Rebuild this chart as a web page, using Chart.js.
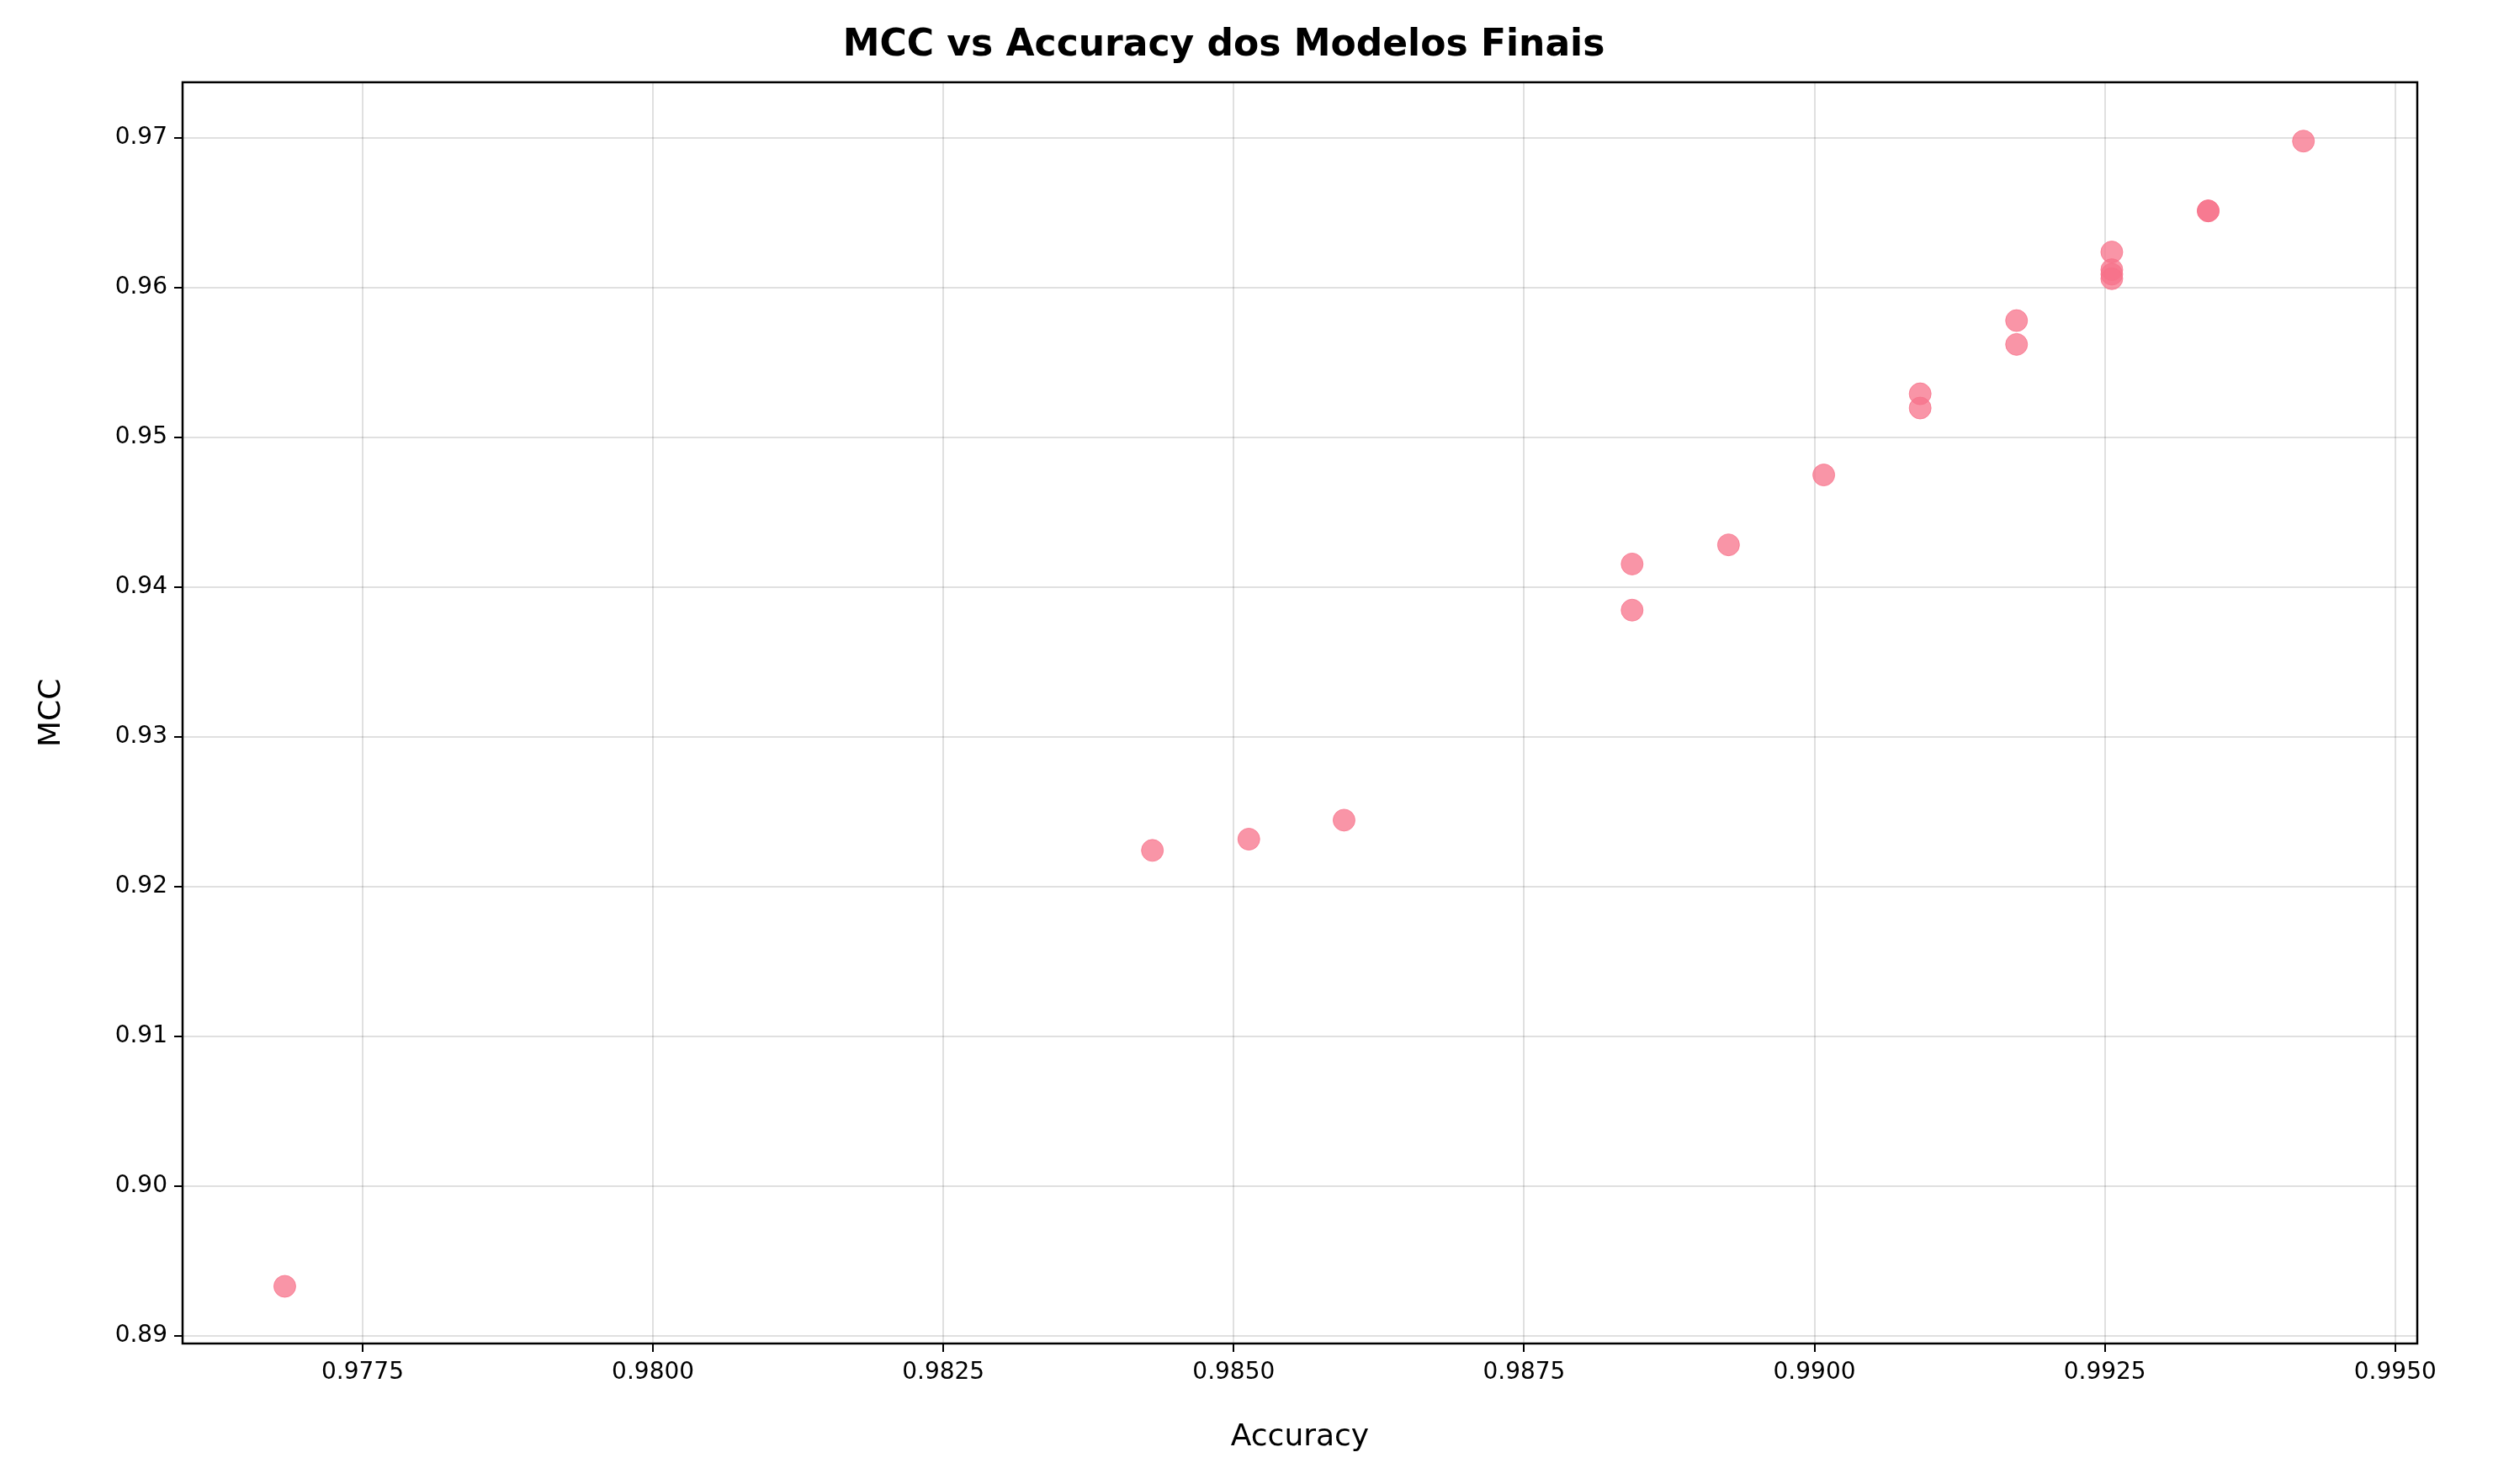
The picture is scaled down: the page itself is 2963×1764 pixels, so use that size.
<!DOCTYPE html>
<html>
<head>
<meta charset="utf-8">
<script src="https://cdn.jsdelivr.net/npm/chart.js@4"></script>
<style>
  html, body { margin: 0; padding: 0; background: #fff; }
  #wrap { width: 2963px; height: 1764px; }
</style>
</head>
<body>
<div id="wrap"><canvas id="c" width="2963" height="1764"></canvas></div>
<script>
// accuracy / MCC of the final models
const accuracy = [0.97683, 0.98430, 0.98513, 0.98595, 0.98843, 0.98843, 0.98926, 0.99008, 0.99091, 0.99091,
  0.99174, 0.99174, 0.99256, 0.99256, 0.99256, 0.99256, 0.99339, 0.99339, 0.99421];
const mcc = [0.89329, 0.92241, 0.92316, 0.92443, 0.94154, 0.93846, 0.94282, 0.94749, 0.95291, 0.95196,
  0.95780, 0.95621, 0.96238, 0.96120, 0.96090, 0.96060, 0.96513, 0.96513, 0.96979];
const xTicks = [0.9775, 0.98, 0.9825, 0.985, 0.9875, 0.99, 0.9925, 0.995];
const yTicks = [0.89, 0.90, 0.91, 0.92, 0.93, 0.94, 0.95, 0.96, 0.97];

const points = accuracy.map((a, i) => ({ x: a, y: mcc[i] }));
const FONT = "'DejaVu Sans', sans-serif";

const frame = {
  id: "frame",
  afterDraw(chart) {
    const { ctx, chartArea: a } = chart;
    ctx.save();
    ctx.strokeStyle = "#000";
    ctx.lineWidth = 2.5;
    ctx.strokeRect(a.left, a.top, a.right - a.left, a.bottom - a.top);
    ctx.restore();
  }
};

new Chart(document.getElementById("c"), {
  type: "scatter",
  data: {
    datasets: [{
      data: points,
      backgroundColor: "rgba(247,113,137,0.75)",
      borderColor: "rgba(247,113,137,0.75)",
      pointRadius: 13,
      pointHoverRadius: 13
    }]
  },
  options: {
    responsive: false,
    animation: false,
    devicePixelRatio: 1,
    layout: { padding: { left: 36, right: 90, top: 0, bottom: 30 } },
    plugins: {
      legend: { display: false },
      tooltip: { enabled: false },
      title: {
        display: true,
        text: "MCC vs Accuracy dos Modelos Finais",
        color: "#000",
        font: { family: FONT, size: 44, weight: "bold" },
        padding: { top: 28, bottom: 17 }
      }
    },
    scales: {
      x: {
        type: "linear",
        min: 0.97595,
        max: 0.99519,
        afterBuildTicks: (s) => { s.ticks = xTicks.map((v) => ({ value: v })); },
        afterFit: (s) => { s.height = 137; },
        ticks: { color: "#000", font: { family: FONT, size: 28 }, padding: 8,
          callback: (v) => v.toFixed(4) },
        grid: { color: "rgba(0,0,0,0.12)", lineWidth: 2, tickColor: "#000", tickLength: 10 },
        border: { display: false },
        title: { display: true, text: "Accuracy", color: "#000",
          font: { family: FONT, size: 36 }, padding: { top: 8 } }
      },
      y: {
        type: "linear",
        min: 0.88947,
        max: 0.97372,
        afterBuildTicks: (s) => { s.ticks = yTicks.map((v) => ({ value: v })); },
        afterFit: (s) => { s.width = 181; },
        ticks: { color: "#000", font: { family: FONT, size: 28 }, padding: 8,
          callback: (v) => v.toFixed(2) },
        grid: { color: "rgba(0,0,0,0.12)", lineWidth: 2, tickColor: "#000", tickLength: 10 },
        border: { display: false },
        title: { display: true, text: "MCC", color: "#000",
          font: { family: FONT, size: 36 }, padding: { bottom: 8 } }
      }
    }
  },
  plugins: [frame]
});
</script>
</body>
</html>
